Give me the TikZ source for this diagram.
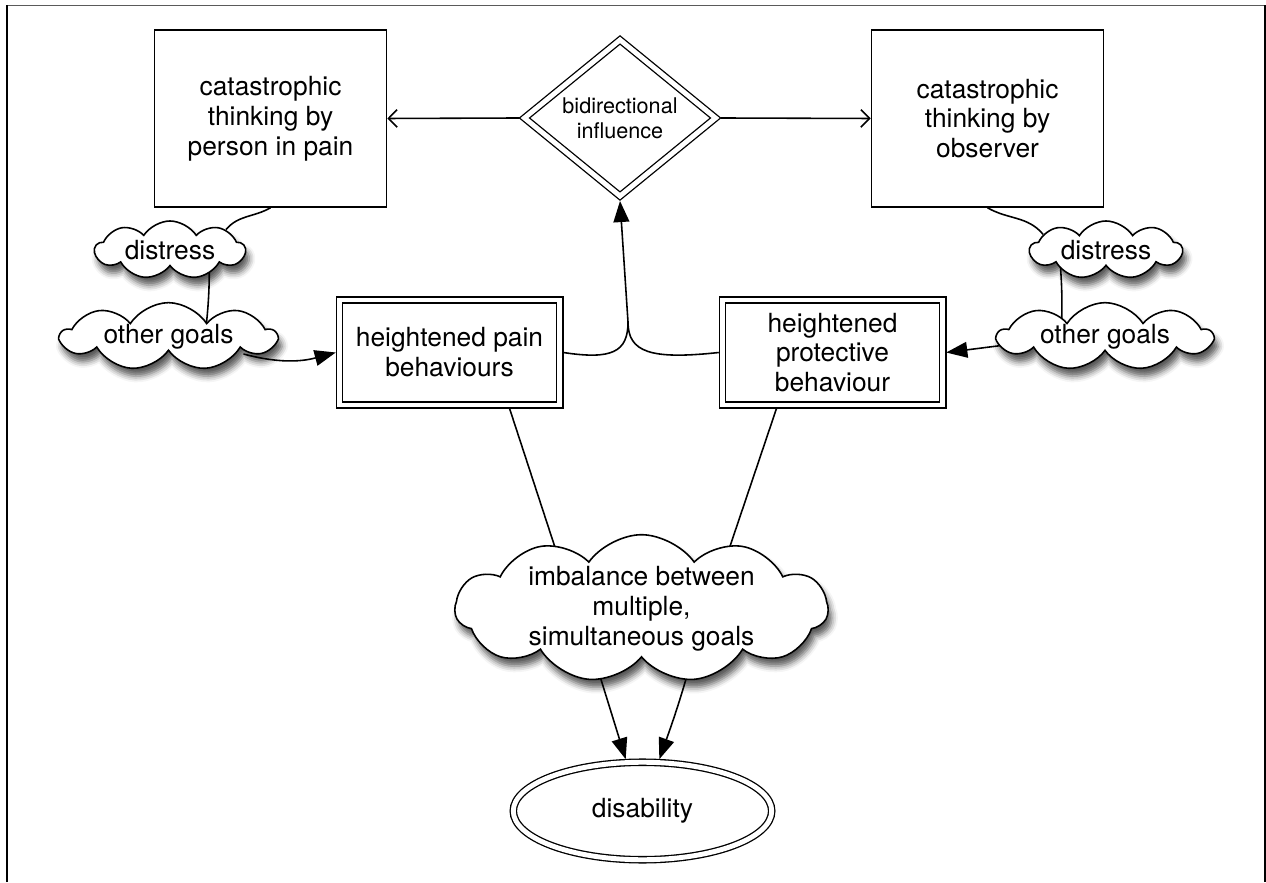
\documentclass[tikz,border=0pt]{standalone}
\usepackage{fontspec}
\setmainfont{TeX Gyre Heros}
\usepackage{tikz}
\usetikzlibrary{arrows.meta,shapes.geometric,shapes.symbols,shadows.blur,backgrounds}
\definecolor{framegray}{RGB}{90,90,90}

\begin{document}
\begin{tikzpicture}[x=0.02cm, y=0.02cm,
    every node/.style={font=\fontsize{15}{17}\selectfont, align=center},
    thinkbox/.style={draw, line width=0.9pt, minimum width=4.64cm, minimum height=3.54cm, inner sep=0pt},
    twoline/.style={draw, line width=0.75pt, double, double distance=2.8pt, outer sep=2pt, inner sep=0pt},
    behavbox/.style={twoline, minimum width=4.41cm, minimum height=2.1cm},
    puff/.style={cloud, cloud puffs=9, cloud puff arc=115, cloud ignores aspect, draw, line width=0.9pt, fill=white, inner sep=0pt,
      blur shadow={shadow xshift=2pt, shadow yshift=-4.5pt, shadow blur radius=3.5pt, shadow opacity=65}},
    conn/.style={line width=0.9pt},
    solidarr/.style={conn, -{Triangle[length=12pt,width=9pt]}},
    openarr/.style={conn, -{Straight Barb[length=5pt,width=10pt]}}]
  \useasboundingbox (0,0) rectangle (1266,882);
  % Frame
  \draw[framegray, line width=0.5pt] (7,877) -- (1265,877);
  \draw[line width=1pt] (7,0) -- (7,877);
  \draw[line width=1pt] (1265,0) -- (1265,877);
  % Top row
  \node[thinkbox] (lbox) at (270.5,763.5) {catastrophic\\thinking by\\person in pain};
  \node[thinkbox] (rbox) at (987.5,763.5) {catastrophic\\thinking by\\observer};
  \node[diamond, twoline, minimum width=3.88cm, minimum height=3.18cm,
    font=\fontsize{12.3}{14.2}\selectfont] (dia) at (620,764) {bidirectional\\influence};
  % Clouds at the sides
  \node[puff, minimum width=3cm, minimum height=1.16cm] (ldist) at (170,632) {distress};
  \node[puff, minimum width=4.3cm, minimum height=1.34cm] (lgoal) at (168.5,545.5) {other goals};
  \node[puff, minimum width=3.04cm, minimum height=1.16cm] (rdist) at (1106,632) {distress};
  \node[puff, minimum width=4.28cm, minimum height=1.34cm] (rgoal) at (1105,545.5) {other goals};
  % Behaviour boxes
  \node[behavbox] (pain) at (449.5,529.5) {heightened pain\\behaviours};
  \node[behavbox] (prot) at (832.5,529.5) {heightened\\protective\\behaviour};
  % Bottom
  \node[puff, cloud puffs=11, cloud puff arc=110, inner ysep=-3pt, minimum width=7.46cm, minimum height=2.46cm] (imb) at (641.5,273.5)
    {imbalance between\\multiple,\\simultaneous goals};
  \node[ellipse, twoline, minimum width=5.17cm, minimum height=1.95cm] (dis) at (642.5,71) {disability};
  % Links, behind the clouds
  \begin{scope}[on background layer]
    % left side
    \draw[conn] (lbox.south) to[out=210,in=50] (ldist.20);
    \draw[conn] ([xshift=0.78cm]ldist.center) to[bend left=4] ([xshift=0.73cm]lgoal.center);
    \draw[solidarr] ([shift={(1.5cm,-0.35cm)}]lgoal.center) to[out=-15,in=195] (pain.west);
    % right side
    \draw[conn] (rbox.south) to[out=-30,in=130] (rdist.166);
    \draw[conn] ([xshift=-0.94cm]rdist.center) to[bend left=4] ([xshift=-0.88cm]rgoal.center);
    \draw[solidarr] ([shift={(-1.6cm,-0.12cm)}]rgoal.center) -- (prot.east);
    % into the diamond
    \coordinate (merge) at (628,560);
    \draw[conn] (pain.east) .. controls (612,522) and (628,530) .. (merge);
    \draw[conn] (prot.west) .. controls (650,522) and (628,530) .. (merge);
    \draw[solidarr] (merge) -- (dia.south);
    \draw[openarr] (dia.west) -- (lbox.east);
    \draw[openarr] (dia.east) -- (rbox.west);
    % down to disability
    \draw[conn] (pain.-43) -- ([xshift=-1.33cm]imb.center);
    \draw[conn] (prot.-135) -- ([xshift=1.35cm]imb.center);
    \draw[solidarr] ([xshift=-1.25cm]imb.center) -- (dis.108);
    \draw[solidarr] ([xshift=1.26cm]imb.center) to[bend left=3] (dis.72);
  \end{scope}
\end{tikzpicture}
\end{document}
